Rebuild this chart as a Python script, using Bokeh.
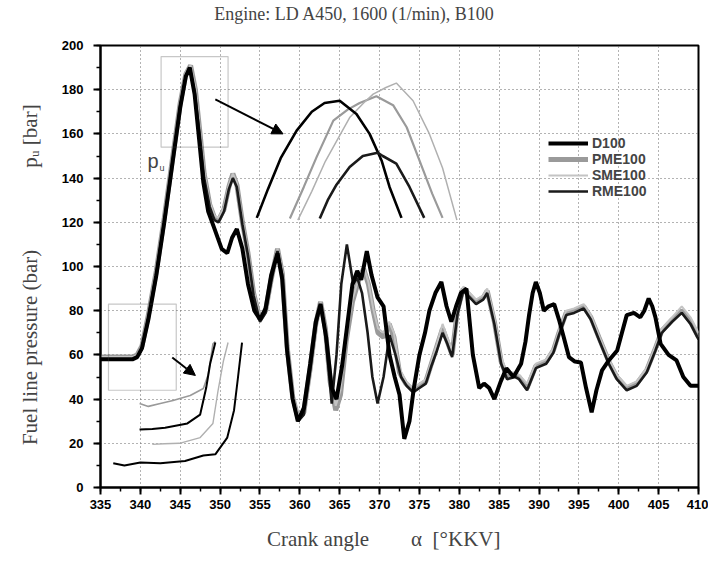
from bokeh.plotting import figure
from bokeh.models import (Range1d, Label, Legend, LegendItem, Arrow, NormalHead,
                          BoxAnnotation, SingleIntervalTicker, FixedTicker, LinearAxis)
from bokeh.embed import file_html
from bokeh.resources import INLINE

# ---------------- data ----------------
d100_x = [335, 337, 339, 339.6, 340.2, 341, 342, 343, 344, 345, 345.7, 346.2, 346.8, 347.3, 347.9,
          348.5, 349.3, 350.2, 350.9, 351.5, 352.1, 352.8, 353.5, 354.3, 355, 355.7, 356.4, 357.2, 357.8, 358.4,
          359.1, 359.75, 360.5, 361.3, 362, 362.6, 363.3, 364, 364.6, 365.3, 366, 366.6, 367.2, 367.7, 368.4,
          369, 369.75, 370.5, 371.25, 371.9, 372.5, 373.1, 373.75, 374.3, 375, 375.7, 376.25, 377, 377.75, 378.4,
          379, 379.6, 380.2, 380.9, 381.7, 382.5, 383.1, 383.75, 384.4, 385.2, 385.9, 386.8, 387.75, 388.3, 388.75,
          389.2, 389.6, 390.1, 390.6, 391.2, 391.9, 392.5, 393.1, 393.75, 394.5, 395.25, 395.9, 396.6, 397.2, 397.9,
          398.75, 399.8, 400.4, 401, 401.9, 402.7, 403.2, 403.75, 404.2, 404.6, 405.25, 406.25, 407.25, 408.1, 409,
          410]
d100_y = [58, 58, 58, 59, 63, 76, 96, 120, 146, 172, 186, 190, 178, 160, 138,
          125, 117, 108, 106, 113, 117, 108, 92, 80, 76, 81, 96, 106, 94, 62,
          40, 30, 36, 56, 75, 83, 68, 45, 40, 55, 75, 92, 98, 94, 107,
          96, 86, 82, 60, 50, 42, 22, 30, 45, 60, 70, 80, 88, 93, 82,
          75, 82, 88, 90, 60, 45, 47, 45, 40, 48, 54, 50, 56, 66, 78,
          88, 93, 88, 80, 82, 83, 76, 68, 59, 57, 56.6, 45, 34, 44, 53,
          57.5, 62, 70, 78, 79, 77, 80, 85.5, 82, 77, 65, 60, 57.5, 50, 46,
          46]

band_x = [335, 337, 339, 339.6, 340.2, 341, 342, 343, 344, 345, 345.7, 346.3, 346.9, 347.4, 348,
          348.7, 349.3, 349.8, 350.5, 351.1, 351.6, 352.1, 352.8, 353.5, 354.2, 355, 355.7, 356.4, 357.2, 357.8,
          358.4, 359.1, 359.8, 360.5, 361.3, 362, 362.6, 363.2, 363.8, 364.5, 365.1, 365.8, 366.6, 367.4, 368,
          368.6, 369.2, 369.8, 370.5, 371.2, 371.8, 372.5, 373.3, 374.2, 375, 375.8, 376.5, 377.2, 377.9, 378.5,
          379.1, 379.75, 380.5, 381.3, 382.1, 383, 383.5, 384.4, 385.25, 386, 387, 387.5, 388.5, 389.6, 390.9,
          391.8, 392.5, 393.4, 394.4, 395.6, 396.5, 397.5, 398.75, 399.75, 401, 402.25, 403.5, 404.6, 405.4, 406.7,
          407.9, 409, 410]
pme_y = [59, 59, 59, 60, 64, 78, 98, 122, 148, 174, 187, 191, 180, 163, 142,
         128, 122, 121, 126, 136, 142, 137, 120, 106, 88, 76, 80, 94, 108, 97,
         64, 41, 31, 34, 54, 74, 84, 72, 48, 35, 42, 66, 84, 94, 99,
         92, 80, 70, 68, 74, 68, 52, 47, 44, 46, 48, 56, 64, 72, 66,
         60, 80, 90, 87, 84, 86, 89, 75, 57, 50, 51, 50, 45, 55, 57,
         62, 70, 79, 80, 82, 77, 68, 57, 50, 45, 47, 53, 63, 71, 76,
         80, 75, 68]
sme_y = [59, 59, 59, 60, 64, 78, 99, 123, 149, 175, 188, 191, 181, 164, 143,
         129, 123, 122, 127, 137, 142, 138, 121, 107, 89, 77, 81, 95, 108, 98,
         65, 42, 32, 35, 55, 75, 84, 73, 50, 37, 44, 68, 85, 95, 100,
         93, 81, 72, 70, 75, 70, 54, 48, 45, 47, 49, 57, 65, 74, 68,
         62, 81, 91, 88, 85, 87, 90, 77, 59, 52, 52, 51, 47, 56, 58,
         63, 71, 80, 81, 83, 78, 69, 58, 51, 46, 48, 54, 64, 72, 77,
         82, 77, 70]

rme_x = [335, 337, 339, 339.6, 340.2, 341, 342, 343, 344, 345, 345.7, 346.2, 346.8, 347.4, 348,
         348.7, 349.3, 349.8, 350.5, 351.1, 351.6, 352.1, 352.8, 353.5, 354.2, 355, 355.7, 356.4, 357.2, 357.8,
         358.4, 359.1, 359.8, 360.5, 361.3, 362, 362.6, 363.2, 364, 364.6, 365.2, 365.9, 366.7, 367.2, 367.8,
         368.5, 369.1, 369.75, 370.5, 371.25, 372, 372.7, 373.4, 374.2, 375, 375.8, 376.5, 377.2, 377.9, 378.5,
         379.1, 379.75, 380.5, 381.3, 382.1, 383, 383.5, 384.4, 385.25, 386, 387, 387.5, 388.5, 389.6, 390.9,
         391.8, 392.5, 393.4, 394.4, 395.6, 396.5, 397.5, 398.75, 399.75, 401, 402.25, 403.5, 404.6, 405.4, 406.7,
         407.9, 409, 410]
rme_y = [58, 58, 58, 59, 63, 77, 97, 121, 147, 173, 186, 190, 179, 161, 140,
         127, 121, 120, 125, 135, 140, 136, 119, 105, 87, 75, 79, 93, 107, 96,
         63, 40, 30, 33, 53, 73, 83, 70, 38, 60, 92, 110, 92, 95, 88,
         70, 50, 38, 50, 69, 60, 50, 46, 43, 45, 47, 55, 62, 70, 65,
         59, 78, 89, 86, 83, 85, 88, 74, 56, 49, 50, 49, 44, 54, 56,
         61, 69, 78, 79, 81, 76, 67, 56, 49, 44, 46, 52, 62, 70, 75,
         79, 74, 67]

# enlarged detail of the injection-pressure peak (upper inset)
ins_d100_x = [354.6, 356, 357.6, 359.6, 361.5, 363.1, 365, 367.1, 368.75, 370.25, 371.25, 372.75]
ins_d100_y = [122, 135, 149, 161.5, 170, 174, 175, 169, 160, 148, 136, 122]
ins_pme_x = [358.75, 360.5, 362.1, 364.2, 366, 367.5, 369.6, 371.7, 373.4, 375, 376.6, 377.9]
ins_pme_y = [121.7, 136, 149.5, 166, 171, 174, 177, 173, 163, 148, 133, 122]
ins_sme_x = [359.75, 361.5, 363.2, 364.8, 366.25, 368, 369.2, 370.8, 372.1, 374.2, 376.25, 377.9, 379.7]
ins_sme_y = [121, 134, 147.6, 158, 167.4, 174, 178, 181, 183, 175, 160, 144.6, 121]
ins_rme_x = [362.5, 363.5, 364.6, 366.25, 367.9, 369.75, 370.4, 372.1, 373.75, 375.6]
ins_rme_y = [121.7, 130, 137, 145, 150, 151.5, 150, 146.6, 136, 122]

# enlarged detail of the start of pressure rise (lower inset)
low1_x = [339.9, 341, 342.5, 344.1, 346.25, 347.9, 348.5, 349.1, 349.4]
low1_y = [38, 36.7, 38, 39.4, 41.6, 44.8, 51, 65, 66]
low2_x = [339.9, 341.5, 343.1, 345.9, 347.5, 348.25, 348.75, 349.4]
low2_y = [26.2, 26.5, 27, 29, 33, 45, 56, 65.6]
low3_x = [341.5, 343, 344.9, 347.5, 349.1, 349.75, 350.4, 351]
low3_y = [19.5, 19.8, 20, 22.6, 29, 44, 57, 65.6]
low4_x = [336.6, 338, 340, 342.5, 345.6, 347.9, 349.4, 350.9, 351.75, 352.25, 352.75]
low4_y = [11, 10, 11.3, 11, 12, 14.5, 15, 22.6, 35, 50, 65.6]

# zoom boxes (left, right, bottom, top) and arrows (x0, y0, x1, y1)
box_upper = [342.6, 351, 154, 195]
box_lower = [336, 344.5, 44, 83]
arrow_upper = [349.4, 175.6, 357.9, 160]
arrow_lower = [344, 58.8, 346.9, 50.7]

series_names = ["D100", "PME100", "SME100", "RME100"]

# ---------------- figure ----------------
SANS = "Liberation Sans"
SERIF = "Liberation Serif"
EM = "\u2003"

p = figure(width=708, height=564, x_range=Range1d(335, 410), y_range=Range1d(0, 200),
           output_backend="svg", toolbar_location=None, title=None,
           min_border_left=100, min_border_right=10, min_border_top=45, min_border_bottom=77)
p.background_fill_color = "white"
p.border_fill_color = "white"
p.outline_line_color = "black"
p.outline_line_width = 2

p.xaxis.ticker = SingleIntervalTicker(interval=5, num_minor_ticks=2)
p.yaxis.ticker = SingleIntervalTicker(interval=20, num_minor_ticks=2)
for ax in (p.xaxis, p.yaxis):
    ax.axis_line_width = 2
    ax.axis_line_color = "black"
    ax.major_tick_line_width = 2
    ax.minor_tick_line_width = 1.5
    ax.major_tick_out = 7
    ax.major_tick_in = 0
    ax.minor_tick_out = 4
    ax.minor_tick_in = 0
    ax.major_label_text_font = SANS
    ax.major_label_text_font_size = "13px"
    ax.major_label_text_font_style = "bold"
    ax.major_label_text_color = "black"
p.xaxis.major_label_standoff = 5
p.yaxis.major_label_standoff = 10

# x axis title (trailing em spaces shift the centred text to the left)
p.xaxis.axis_label = "Crank angle" + EM + EM + "\u03b1\u2002[\u00b0KKV]" + EM + "\u2002"
p.xaxis.axis_label_text_font = SERIF
p.xaxis.axis_label_text_font_size = "21px"
p.xaxis.axis_label_text_font_style = "normal"
p.xaxis.axis_label_standoff = 15

# y axis title: "Fuel line pressure (bar)" below, "p_u [bar]" above, on one line
p.yaxis.axis_label = ("Fuel line pressure (bar)" + EM + EM + EM + "\u2002\u2009\u2009"
                      "p\u1d64 [bar]" + "\u2002\u2009\u200a")
p.yaxis.axis_label_text_font = SERIF
p.yaxis.axis_label_text_font_size = "21px"
p.yaxis.axis_label_text_font_style = "normal"
p.yaxis.axis_label_standoff = 17

# chart title carried by a tick-less axis above the frame
top_ax = LinearAxis(ticker=FixedTicker(ticks=[]), axis_line_alpha=0,
                    major_tick_out=0, major_tick_in=0, minor_tick_out=0, minor_tick_in=0,
                    major_label_standoff=0,
                    axis_label="Engine: LD A450, 1600 (1/min), B100" + EM * 5,
                    axis_label_text_font=SERIF, axis_label_text_font_size="18px",
                    axis_label_text_font_style="normal", axis_label_standoff=22)
p.add_layout(top_ax, "above")

for g in (p.xgrid, p.ygrid):
    g.grid_line_color = "#666666"
    g.grid_line_dash = "1 3"
    g.grid_line_width = 1
p.xgrid.ticker = SingleIntervalTicker(interval=5)
p.ygrid.ticker = SingleIntervalTicker(interval=20)

# main curves
r_pme = p.line(band_x, pme_y, line_color="#9a9a9a", line_width=5)
r_sme = p.line(band_x, sme_y, line_color="#c4c4c4", line_width=2)
r_rme = p.line(rme_x, rme_y, line_color="#1a1a1a", line_width=2.6)
r_d100 = p.line(d100_x, d100_y, line_color="black", line_width=4)

# inset curves
p.line(ins_pme_x, ins_pme_y, line_color="#9a9a9a", line_width=2.2)
p.line(ins_sme_x, ins_sme_y, line_color="#b0b0b0", line_width=1.5)
p.line(ins_d100_x, ins_d100_y, line_color="black", line_width=2.6)
p.line(ins_rme_x, ins_rme_y, line_color="#1a1a1a", line_width=2.6)

p.line(low1_x, low1_y, line_color="#9a9a9a", line_width=1.6)
p.line(low2_x, low2_y, line_color="black", line_width=2)
p.line(low3_x, low3_y, line_color="#b0b0b0", line_width=1.4)
p.line(low4_x, low4_y, line_color="black", line_width=2)

for b in (box_upper, box_lower):
    p.add_layout(BoxAnnotation(left=b[0], right=b[1], bottom=b[2], top=b[3],
                               fill_alpha=0, line_color="#444444", line_width=1.2))
for a in (arrow_upper, arrow_lower):
    p.add_layout(Arrow(x_start=a[0], y_start=a[1], x_end=a[2], y_end=a[3],
                       line_color="black", line_width=2,
                       end=NormalHead(size=11, fill_color="black", line_color="black")))

legend = Legend(items=[LegendItem(label=series_names[0], renderers=[r_d100]),
                       LegendItem(label=series_names[1], renderers=[r_pme]),
                       LegendItem(label=series_names[2], renderers=[r_sme]),
                       LegendItem(label=series_names[3], renderers=[r_rme])],
                location=(448, 288), glyph_width=40, glyph_height=16, label_height=16,
                label_standoff=4, spacing=0, padding=0, margin=0,
                border_line_alpha=0, background_fill_alpha=0,
                label_text_font=SANS, label_text_font_size="14px", label_text_font_style="bold")
p.add_layout(legend)

# "p_u" marker next to the zoom box (inside the frame)
p.add_layout(Label(x=47, y=327, x_units="screen", y_units="screen", text="p",
                   text_font=SANS, text_font_size="20px", text_baseline="middle"))
p.add_layout(Label(x=59, y=320, x_units="screen", y_units="screen", text="u",
                   text_font=SANS, text_font_size="9px", text_baseline="middle"))

open("out.html", "w").write(file_html(p, INLINE))
